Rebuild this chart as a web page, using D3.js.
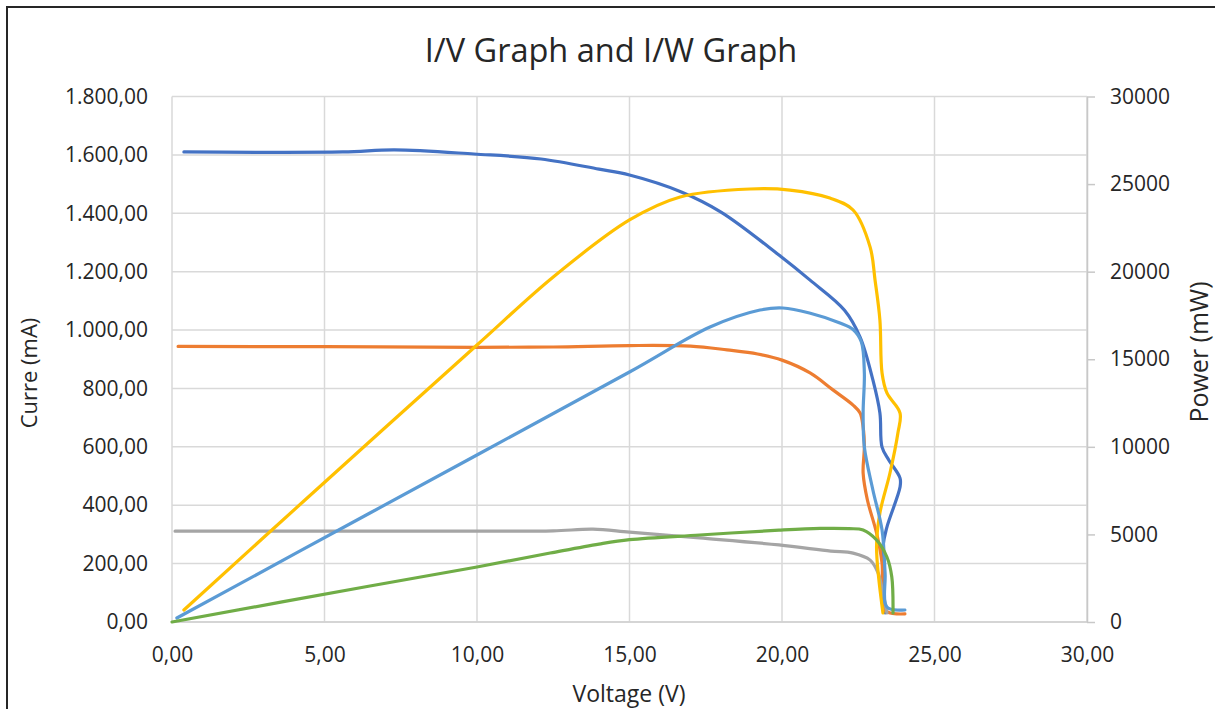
<!DOCTYPE html>
<html>
<head>
<meta charset="utf-8">
<script src="https://cdn.jsdelivr.net/npm/d3@7"></script>
<style>
  body { margin: 0; background: #fff; }
  text { font-family: "Open Sans", sans-serif; fill: #262626; }
</style>
</head>
<body>
<svg id="chart" width="1215" height="709"></svg>
<script>

// current series (mA) - left axis
var i1Volt = [0.39, 5.6, 7.3, 9.9, 12.1, 14.0, 15.0, 16.7, 18.0, 19.9, 20.92, 22.05, 22.56, 22.98, 23.21, 23.28, 23.5, 23.87, 23.87, 23.44, 23.31, 23.38];
var i1Curr = [1610, 1610, 1617, 1603, 1586, 1551, 1531, 1473, 1404, 1257, 1171, 1068, 976, 829, 716, 599, 555, 493, 462, 325, 257, 31];

var i2Volt = [0.2, 5.0, 10.0, 12.5, 15.0, 17.0, 18.2, 19.2, 20.0, 20.92, 21.67, 22.33, 22.56, 22.66, 22.7, 22.66, 22.8, 23.1, 23.28, 23.38, 24.03];
var i2Curr = [944, 943, 941, 942, 947, 945, 932, 918, 897, 853, 795, 743, 716, 668, 600, 510, 418, 305, 202, 40, 28];

var i3Volt = [0.1, 5.0, 10.0, 12.5, 13.8, 15.0, 17.3, 19.9, 21.6, 22.33, 22.89, 23.15, 23.31, 23.44];
var i3Curr = [311, 311, 311, 312, 318, 308, 288, 264, 243, 236, 212, 168, 99, 31];

// power series (mW) - right axis
var p1Volt = [0.39, 4.36, 10.0, 12.5, 15.0, 16.66, 18.95, 20.26, 21.57, 22.33, 22.89, 23.05, 23.21, 23.28, 23.44, 23.87, 23.8, 23.54, 23.21, 23.1, 23.31];
var p1Pow = [685, 6965, 15814, 19700, 22950, 24263, 24720, 24660, 24206, 23520, 21400, 19525, 17240, 14215, 13074, 11930, 10790, 8506, 6223, 4282, 514];

var p2Volt = [0.16, 6.49, 15.0, 17.64, 19.28, 20.03, 20.9, 21.9, 22.33, 22.6, 22.7, 22.66, 22.7, 22.98, 23.28, 23.38, 23.44, 24.03];
var p2Pow = [228, 6222, 14272, 16840, 17810, 17926, 17640, 17070, 16700, 16000, 14215, 11930, 9990, 7536, 5252, 2797, 856, 685];

var p3Volt = [0, 6.49, 10.0, 12.4, 14.0, 15.0, 17.3, 19.9, 21.25, 22.2, 22.66, 23.1, 23.44, 23.6, 23.64];
var p3Pow = [0, 2055, 3140, 3939, 4450, 4700, 4967, 5240, 5340, 5330, 5252, 4681, 3711, 2569, 514];

var xTicks = [0, 5, 10, 15, 20, 25, 30];
var leftTicks = [0, 200, 400, 600, 800, 1000, 1200, 1400, 1600, 1800];
var rightTicks = [0, 5000, 10000, 15000, 20000, 25000, 30000];

var svg = d3.select("#chart");

// outer frame
svg.append("rect")
    .attr("x", 7)
    .attr("y", 7)
    .attr("width", 1230)
    .attr("height", 730)
    .style("fill", "none")
    .style("stroke", "#262626")
    .style("stroke-width", 2);

var plotLeft = 172, plotRight = 1087, plotTop = 96.5, plotBottom = 622;

var x = d3.scaleLinear().domain([0, 30]).range([plotLeft, plotRight]);
var yL = d3.scaleLinear().domain([0, 1800]).range([plotBottom, plotTop]);
var yR = d3.scaleLinear().domain([0, 30000]).range([plotBottom, plotTop]);

var euro = d3.formatLocale({decimal: ",", thousands: ".", grouping: [3], currency: ["", "€"]});
var fmt2 = euro.format(",.2f");

// gridlines
svg.append("g")
    .selectAll("line")
    .data(leftTicks)
    .enter()
    .append("line")
    .attr("x1", plotLeft)
    .attr("x2", plotRight)
    .attr("y1", function(d){ return yL(d); })
    .attr("y2", function(d){ return yL(d); })
    .style("stroke", "#d9d9d9")
    .style("stroke-width", 1.5);

svg.append("g")
    .selectAll("line")
    .data(xTicks)
    .enter()
    .append("line")
    .attr("x1", function(d){ return x(d); })
    .attr("x2", function(d){ return x(d); })
    .attr("y1", plotTop)
    .attr("y2", plotBottom)
    .style("stroke", "#d9d9d9")
    .style("stroke-width", 1.5);

// bottom axis line
svg.append("line")
    .attr("x1", plotLeft).attr("x2", plotRight)
    .attr("y1", plotBottom).attr("y2", plotBottom)
    .style("stroke", "#d0d0d0")
    .style("stroke-width", 1.5);

// left axis
var gLeft = svg.append("g")
    .attr("transform", "translate(" + plotLeft + ",0)")
    .call(d3.axisLeft(yL).tickValues(leftTicks).tickFormat(fmt2).tickSize(0).tickPadding(24));
gLeft.select(".domain").remove();

// bottom axis
var gBottom = svg.append("g")
    .attr("transform", "translate(0," + plotBottom + ")")
    .call(d3.axisBottom(x).tickValues(xTicks).tickFormat(fmt2).tickSize(0).tickPadding(25));
gBottom.select(".domain").remove();

// right axis
var gRight = svg.append("g")
    .attr("transform", "translate(" + plotRight + ",0)")
    .call(d3.axisRight(yR).tickValues(rightTicks).tickFormat(d3.format("d")).tickSizeInner(8).tickSizeOuter(0).tickPadding(15));
gRight.select(".domain").style("stroke", "#c8c8c8").style("stroke-width", 1.5);
gRight.selectAll(".tick line").style("stroke", "#c8c8c8").style("stroke-width", 1.5);

svg.selectAll(".tick text")
    .style("font-family", "'Open Sans', sans-serif")
    .style("font-size", "21px")
    .style("fill", "#262626");

// titles
svg.append("text")
    .attr("x", 611)
    .attr("y", 62)
    .attr("text-anchor", "middle")
    .style("font-size", "32.5px")
    .text("I/V Graph and I/W Graph");

svg.append("text")
    .attr("x", 629)
    .attr("y", 702)
    .attr("text-anchor", "middle")
    .style("font-size", "23px")
    .text("Voltage (V)");

svg.append("text")
    .attr("transform", "translate(37,373) rotate(-90)")
    .attr("text-anchor", "middle")
    .style("font-size", "22px")
    .text("Curre (mA)");

svg.append("text")
    .attr("transform", "translate(1208,352) rotate(-90)")
    .attr("text-anchor", "middle")
    .style("font-size", "25px")
    .text("Power (mW)");

// series
var series = [
    {v: i1Volt, y: i1Curr, scale: yL, color: "#4472C4"},
    {v: i2Volt, y: i2Curr, scale: yL, color: "#ED7D31"},
    {v: i3Volt, y: i3Curr, scale: yL, color: "#A5A5A5"},
    {v: p1Volt, y: p1Pow, scale: yR, color: "#FFC000"},
    {v: p2Volt, y: p2Pow, scale: yR, color: "#5B9BD5"},
    {v: p3Volt, y: p3Pow, scale: yR, color: "#70AD47"}
];

series.forEach(function(s){
    var pts = s.v.map(function(d, i){ return [d, s.y[i]]; });
    var line = d3.line()
        .x(function(d){ return x(d[0]); })
        .y(function(d){ return s.scale(d[1]); })
        .curve(d3.curveCatmullRom.alpha(0.5));
    svg.append("path")
        .datum(pts)
        .attr("d", line)
        .style("fill", "none")
        .style("stroke", s.color)
        .style("stroke-width", 3.2)
        .style("stroke-linecap", "round")
        .style("stroke-linejoin", "round");
});

</script>
</body>
</html>
